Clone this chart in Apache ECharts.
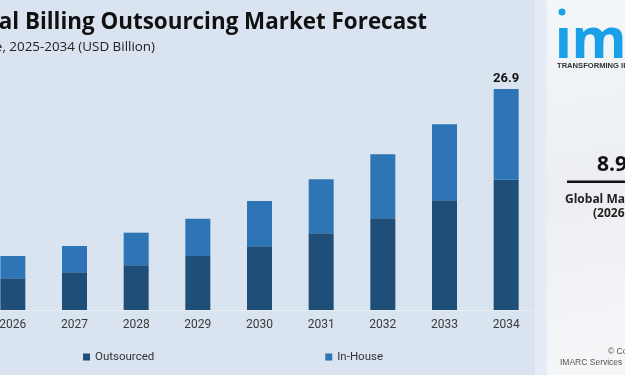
<!DOCTYPE html>
<html lang="en" style="height: 100%">
<head>
  <meta charset="UTF-8" />
  <title>Medical Billing Outsourcing Market Forecast</title>
  <script src="https://cdn.jsdelivr.net/npm/echarts@6/dist/echarts.min.js"></script>
</head>
<body style="height: 100%; margin: 0">
  <div id="main" style="width: 625px; height: 375px"></div>
  <script type="text/javascript">
    // 数据
    var years = ['2026', '2027', '2028', '2029', '2030', '2031', '2032', '2033', '2034'];
    var outsourced = [3.86, 4.59, 5.44, 6.57, 7.75, 9.34, 11.16, 13.35, 15.86];
    var inHouse = [2.71, 3.20, 3.97, 4.54, 5.52, 6.57, 7.79, 9.25, 11.04];
    var totalLabel = { '2034': '26.9' };

    var myChart = echarts.init(document.getElementById('main'));

    var option = {
      backgroundColor: '#dae3f0',
      animation: false,
      textStyle: { fontFamily: 'Roboto, "Open Sans", sans-serif' },
      legend: {
        left: 83,
        top: 351,
        padding: 0,
        itemWidth: 7,
        itemHeight: 7,
        itemGap: 171,
        icon: 'rect',
        textStyle: { color: '#333', fontSize: 11.5 },
        data: ['Outsourced', 'In-House']
      },
      grid: { left: -18, right: 88, top: 63.5, bottom: 65, outerBoundsMode: 'none' },
      xAxis: {
        type: 'category',
        data: years,
        axisLine: { lineStyle: { color: '#e6ecf5' } },
        axisTick: { show: false },
        axisLabel: { color: '#3a3a3a', fontSize: 12, margin: 9 }
      },
      yAxis: { type: 'value', min: 0, max: 30, show: false, splitLine: { show: false } },
      series: [
        {
          name: 'Outsourced', type: 'bar', stack: 'a', barWidth: 25,
          itemStyle: { color: '#1f4e79' },
          data: outsourced
        },
        {
          name: 'In-House', type: 'bar', stack: 'a', barWidth: 25,
          itemStyle: { color: '#2e75b6' },
          label: {
            show: true, position: 'top', distance: 4,
            color: '#111', fontWeight: 'bold', fontSize: 13,
            formatter: function (p) { return totalLabel[p.name] || ''; }
          },
          data: inHouse
        }
      ],
      graphic: [
        // 标题（左侧被裁切）
        { type: 'text', x: 427, y: 12, style: { text: 'Medical Billing Outsourcing Market Forecast', align: 'right', fill: '#111', font: 'bold 22.4px "Open Sans", sans-serif' } },
        { type: 'text', x: 155, y: 41, style: { text: 'Market Size, 2025-2034 (USD Billion)', align: 'right', fill: '#222', font: '13.4px "Open Sans", sans-serif' } },
        // 右侧面板
        { type: 'rect', shape: { x: 535, y: 0, width: 12, height: 375 }, style: { fill: '#e4ecf6' } },
        {
          type: 'rect', shape: { x: 547, y: 0, width: 78, height: 375 },
          style: { fill: new echarts.graphic.LinearGradient(0, 0, 1, 1, [
            { offset: 0, color: '#f4f7fa' }, { offset: 0.5, color: '#eceef1' }, { offset: 1, color: '#f6f7f9' }
          ]) }
        },
        { type: 'circle', shape: { cx: 562, cy: 12, r: 3.5 }, style: { fill: '#1aa0e8' } },
        { type: 'text', x: 555, y: 42, style: { text: '\u0131marc', fill: '#1aa0e8', verticalAlign: 'middle', font: 'bold 56px "Noto Sans", sans-serif' } },
        { type: 'text', x: 557, y: 66, style: { text: 'TRANSFORMING IDEAS', fill: '#333', verticalAlign: 'middle', font: 'bold 7.6px "Liberation Sans", sans-serif' } },
        { type: 'text', x: 597, y: 165, style: { text: '8.9', fill: '#111', verticalAlign: 'middle', font: 'bold 21px "Open Sans", sans-serif' } },
        { type: 'rect', shape: { x: 567, y: 180.5, width: 60, height: 2.5 }, style: { fill: '#111' } },
        { type: 'text', x: 565, y: 200, style: { text: 'Global Market', fill: '#222', verticalAlign: 'middle', font: 'bold 12px "Open Sans", sans-serif' } },
        { type: 'text', x: 593, y: 214, style: { text: '(2026)', fill: '#222', verticalAlign: 'middle', font: 'bold 12px "Open Sans", sans-serif' } },
        { type: 'text', x: 608, y: 352, style: { text: '© Copyright', fill: '#555', verticalAlign: 'middle', font: '8.5px "Liberation Sans", sans-serif' } },
        { type: 'text', x: 560, y: 363, style: { text: 'IMARC Services Pvt. Ltd.', fill: '#555', verticalAlign: 'middle', font: '8.5px "Liberation Sans", sans-serif' } }
      ]
    };

    myChart.setOption(option);
  </script>
</body>
</html>
